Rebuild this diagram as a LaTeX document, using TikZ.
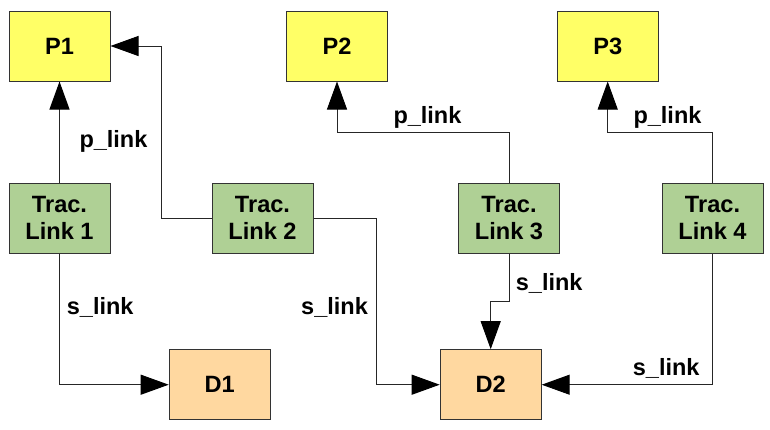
\documentclass[tikz,border=0pt]{standalone}
\usepackage{fontspec}
\setmainfont{Liberation Sans}
\usetikzlibrary{arrows.meta}
\definecolor{pfill}{HTML}{FFFF66}
\definecolor{tfill}{HTML}{AFD095}
\definecolor{dfill}{HTML}{FFD8A0}
\definecolor{edge}{HTML}{333333}
\tikzset{
  box/.style={draw=edge, line width=1pt, minimum width=101pt, minimum height=70pt, inner sep=0pt,
    font=\fontsize{23.6}{27.5}\selectfont\bfseries, align=center},
  pbox/.style={box, fill=pfill},
  tbox/.style={box, fill=tfill},
  dbox/.style={box, fill=dfill},
  conn/.style={draw=black!85, line width=1pt, -{Triangle[length=28pt,width=20pt,color=black,fill=black]}},
  lbl/.style={anchor=base west, inner sep=0pt, font=\fontsize{23.5}{27}\selectfont\bfseries}
}
\begin{document}
\begin{tikzpicture}[x=1pt,y=-1pt]
\useasboundingbox (0,0) rectangle (770,429);
\node[pbox] (p1) at (59.5,46) {P1};
\node[pbox] (p2) at (337,46) {P2};
\node[pbox] (p3) at (607.7,46) {P3};
\node[tbox] (t1) at (59.5,218) {Trac.\\Link 1};
\node[tbox] (t2) at (262.5,218) {Trac.\\Link 2};
\node[tbox] (t3) at (509,218) {Trac.\\Link 3};
\node[tbox] (t4) at (712.5,218) {Trac.\\Link 4};
\node[dbox] (d1) at (219.7,384.7) {D1};
\node[dbox] (d2) at (490.7,384.7) {D2};

\coordinate (a1) at (161.3,218);
\coordinate (a2) at (161.3,46);
\coordinate (b1) at (376.7,218);
\coordinate (b2) at (376.7,384.7);
\coordinate (c1) at (509,132.3);
\coordinate (c2) at (337,132.3);
\coordinate (e1) at (712.5,132.3);
\coordinate (e2) at (607.7,132.3);
\coordinate (f1) at (59.5,384.7);
\coordinate (g1) at (509,301.3);
\coordinate (g2) at (490.7,301.3);
\coordinate (h1) at (712.5,384.7);

\draw[conn] (t1) -- (p1);
\draw[conn] (t2.west) -- (a1) -- (a2) -- (p1.east);
\draw[conn] (t2.east) -- (b1) -- (b2) -- (d2.west);
\draw[conn] (t3.north) -- (c1) -- (c2) -- (p2.south);
\draw[conn] (t4.north) -- (e1) -- (e2) -- (p3.south);
\draw[conn] (t1.south) -- (f1) -- (d1.west);
\draw[conn] (t3.south) -- (g1) -- (g2) -- (d2.north);
\draw[conn] (t4.south) -- (h1) -- (d2.east);

\node[lbl] (l1) at (79.3,147.7) {p\_link};
\node[lbl] (l2) at (393.3,123.3) {p\_link};
\node[lbl] (l3) at (633.3,123.3) {p\_link};
\node[lbl] (l4) at (66.7,314) {s\_link};
\node[lbl] (l5) at (301,314) {s\_link};
\node[lbl] (l6) at (515.7,290) {s\_link};
\node[lbl] (l7) at (632.7,375) {s\_link};
\end{tikzpicture}
\end{document}
